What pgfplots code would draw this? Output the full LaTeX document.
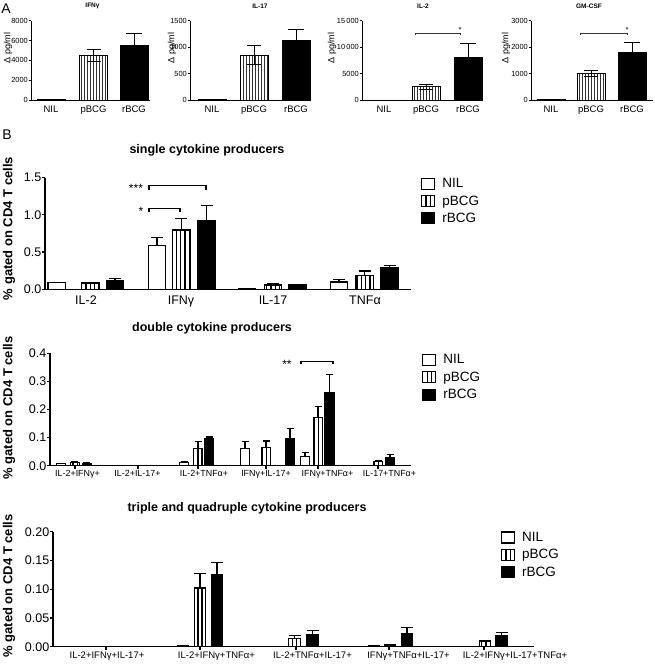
\documentclass[border=0pt]{standalone}
\usepackage{pgfplots}
\pgfplotsset{compat=1.18}
\usepackage{fontspec}
\setmainfont{Liberation Sans}
\usetikzlibrary{patterns.meta}
\newcommand{\fs}[1]{\fontsize{#1}{#1}\selectfont}

\pgfplotsset{
  base/.style={
    scale only axis, anchor=south west,
    axis x line*=bottom, axis y line*=left,
    ymin=0, clip=false, tick align=outside,
    scaled y ticks=false,
    /pgf/number format/assume math mode=true,
    /pgf/number format/1000 sep={},
    xtick style={draw=none},
  },
  Astyle/.style={base,
    axis line style={line width=0.9pt},
    ytick style={line width=0.8pt, black},
    major tick length=2.5pt,
    yticklabel style={font=\fs{7.4}, inner sep=0.5pt},
    xticklabel style={font=\fs{9.5}, inner sep=1pt, yshift=-2pt},
  },
  Bstyle/.style={base,
    axis line style={line width=1.3pt},
    ytick style={line width=1.2pt, black},
    major tick length=3pt,
    yticklabel style={font=\fs{12.5}, inner sep=0.5pt},
    legend style={draw=none, fill=none, anchor=north west, font=\fs{13.5},
      row sep=5pt, column sep=7pt, nodes={inner sep=0pt}, inner sep=0pt},
    legend cell align=left,
  },
  nil/.style={ybar, bar shift=0pt, fill=white, draw=black, forget plot},
  rbcg/.style={ybar, bar shift=0pt, fill=black, draw=black, forget plot},
  pbcgA/.style={ybar, bar shift=0pt, draw=black, forget plot,
     pattern={Lines[angle=90,distance=3pt,line width=0.9pt]}, pattern color=black!80},
  pbcgB/.style={ybar, bar shift=0pt, draw=black, forget plot,
     pattern={Lines[angle=90,distance=4.3pt,line width=1.4pt]}},
  eb/.style={error bars/.cd, y dir=plus, y explicit,
     error bar style={line width=1.1pt, black},
     error mark options={rotate=90, line width=1.1pt, black, mark size=#1}},
  ebA/.style={error bars/.cd, y dir=both, y explicit,
     error bar style={line width=0.9pt, black},
     error mark options={rotate=90, line width=0.9pt, black, mark size=#1}},
  legNIL/.style={legend image code/.code={\draw[line width=1.2pt, fill=white] (0pt,-5.5pt) rectangle (13pt,5.5pt);}},
  legP/.style={legend image code/.code={\draw[line width=1.2pt] (0pt,-5.5pt) rectangle (13pt,5.5pt); \draw[line width=1.4pt] (4.4pt,-5.5pt)--(4.4pt,5.5pt) (8.7pt,-5.5pt)--(8.7pt,5.5pt);}},
  legR/.style={legend image code/.code={\draw[line width=1.2pt, fill=black] (0pt,-5.5pt) rectangle (13pt,5.5pt);}},
}

\begin{document}
\begin{tikzpicture}
\useasboundingbox (0,0) rectangle (655pt,665pt);

% ---------------- Panel A ----------------
\begin{axis}[Astyle, at={(31pt,565pt)}, width=119pt, height=79.3pt,
  xmin=31, xmax=150, ymax=8000, ytick={0,2000,4000,6000,8000},
  xtick={51,93.5,134}, xticklabels={NIL,pBCG,rBCG}]
\addplot[nil, line width=0.8pt, bar width=28pt] coordinates {(51,20)};
\addplot[pbcgA, line width=0.8pt, bar width=28pt, ebA=7pt] coordinates {(93.5,4480) +- (0,630)};
\addplot[rbcg, line width=0.8pt, bar width=28pt, ebA=8pt] coordinates {(134,5550) +- (0,1130)};
\end{axis}

\begin{axis}[Astyle, at={(190pt,565pt)}, width=120pt, height=79.3pt,
  xmin=190, xmax=310, ymax=1500, ytick={0,500,1000,1500},
  xtick={212,254,296}, xticklabels={NIL,pBCG,rBCG}]
\addplot[nil, line width=0.8pt, bar width=28pt] coordinates {(212,3)};
\addplot[pbcgA, line width=0.8pt, bar width=28pt, ebA=7pt] coordinates {(254,851) +- (0,185)};
\addplot[rbcg, line width=0.8pt, bar width=28pt, ebA=8pt] coordinates {(296,1130) +- (0,200)};
\end{axis}

\begin{axis}[Astyle, at={(362pt,565pt)}, width=118pt, height=79.3pt,
  xmin=362, xmax=480, ymax=15000, ytick={0,5000,10000,15000},
  yticklabels={0,5000,10\hspace{0.18em}000,15\hspace{0.18em}000},
  xtick={384,426,468}, xticklabels={NIL,pBCG,rBCG}]
\addplot[nil, line width=0.8pt, bar width=28pt] coordinates {(384,0)};
\addplot[pbcgA, line width=0.8pt, bar width=28pt, ebA=7pt] coordinates {(426,2516) +- (0,470)};
\addplot[rbcg, line width=0.8pt, bar width=28pt, ebA=8pt] coordinates {(468,8077) +- (0,2650)};
\draw[line width=0.8pt, black!80] (axis cs:415,12300) -- (axis cs:415,12673) -- (axis cs:460,12673) -- (axis cs:460,12300);
\node[font=\fs{7.5}] at (axis cs:460,13300) {*};
\end{axis}

\begin{axis}[Astyle, at={(531pt,565pt)}, width=122pt, height=79.3pt,
  xmin=531, xmax=653, ymax=3000, ytick={0,1000,2000,3000},
  xtick={551,591,632}, xticklabels={NIL,pBCG,rBCG}]
\addplot[nil, line width=0.8pt, bar width=28pt] coordinates {(551,30)};
\addplot[pbcgA, line width=0.8pt, bar width=28pt, ebA=7pt] coordinates {(591,1009) +- (0,125)};
\addplot[rbcg, line width=0.8pt, bar width=28pt, ebA=8pt] coordinates {(632,1805) +- (0,380)};
\draw[line width=0.8pt, black!80] (axis cs:580,2460) -- (axis cs:580,2535) -- (axis cs:627,2535) -- (axis cs:627,2460);
\node[font=\fs{7.5}] at (axis cs:627,2660) {*};
\end{axis}

% ---------------- Panel B1 ----------------
\begin{axis}[Bstyle, at={(45pt,375.7pt)}, width=366pt, height=111.6pt,
  xmin=45, xmax=411, ymax=1.5, ytick={0,0.5,1,1.5},
  yticklabel style={/pgf/number format/.cd, fixed, fixed zerofill, precision=1},
  xtick={86,181,273,365}, xticklabels={IL-2,IFNγ,IL-17,TNFα},
  xticklabel style={font=\fs{12.5}},
  legend style={at={(1.027,1.002)}}]
\addplot[nil, line width=1.2pt, bar width=17.5pt, eb=6pt] coordinates {
  (56.7,0.089) +- (0,0.004) (157,0.586) +- (0,0.113) (339,0.098) +- (0,0.031)};
\addplot[nil, line width=1.2pt, bar width=17.5pt] coordinates {(247,0.004)};
\addplot[pbcgB, line width=1.2pt, bar width=17.5pt, eb=6pt] coordinates {
  (90.3,0.085) +- (0,0.005) (181.3,0.797) +- (0,0.157) (273,0.058) +- (0,0.018) (364.5,0.183) +- (0,0.063)};
\addplot[rbcg, line width=1.2pt, bar width=17.5pt, eb=6pt] coordinates {
  (115,0.121) +- (0,0.022) (206.5,0.918) +- (0,0.206) (297.7,0.058) +- (0,0.012) (389.5,0.29) +- (0,0.032)};
\draw[line width=1.2pt] (axis cs:149,1.338) -- (axis cs:149,1.392) -- (axis cs:206,1.392) -- (axis cs:206,1.338);
\draw[line width=1.2pt] (axis cs:149,1.035) -- (axis cs:149,1.089) -- (axis cs:180,1.089) -- (axis cs:180,1.035);
\node[font=\fs{12}, yshift=-3pt] at (axis cs:136,1.392) {***};
\node[font=\fs{12}, yshift=-3pt] at (axis cs:141,1.089) {*};
\addlegendimage{legNIL}\addlegendentry{NIL}
\addlegendimage{legP}\addlegendentry{pBCG}
\addlegendimage{legR}\addlegendentry{rBCG}
\end{axis}

% ---------------- Panel B2 ----------------
\begin{axis}[Bstyle, at={(50pt,199.3pt)}, width=361pt, height=112.4pt,
  xmin=50, xmax=411, ymax=0.4, ytick={0,0.1,0.2,0.3,0.4},
  yticklabel style={/pgf/number format/.cd, fixed, fixed zerofill, precision=1},
  xtick={75,138,198,266,318,378}, xticklabels={},
  xtick style={draw=black, line width=1.1pt},
  extra x ticks={77.5,137.5,204,266,327.5,389.5},
  extra x tick labels={IL-2+IFNγ+,IL-2+IL-17+,IL-2+TNFα+,IFNγ+IL-17+,IFNγ+TNFα+,IL-17+TNFα+},
  extra x tick style={major tick length=0pt, tick style={draw=none}, xticklabel style={font=\fs{8.9}, yshift=-1pt}},
  legend style={at={(1.0305,0.9956)}}]
\addplot[nil, line width=1.1pt, bar width=9pt, eb=3.5pt] coordinates {
  (61,0.008) +- (0,0.001) (184,0.01) +- (0,0.004) (245,0.062) +- (0,0.025) (305,0.034) +- (0,0.012)};
\addplot[nil, line width=1.1pt, bar width=9pt] coordinates {(130,0.001) (367,0.001)};
\addplot[pbcgB, line width=1.1pt, bar width=9pt, eb=3.5pt] coordinates {
  (75,0.011) +- (0,0.003) (198,0.062) +- (0,0.023) (266,0.064) +- (0,0.024) (318,0.171) +- (0,0.039) (378,0.014) +- (0,0.004)};
\addplot[pbcgB, line width=1.1pt, bar width=9pt] coordinates {(138,0.002)};
\addplot[rbcg, line width=1.1pt, bar width=9pt, eb=3.5pt] coordinates {
  (87,0.009) +- (0,0.002) (209,0.098) +- (0,0.004) (290,0.095) +- (0,0.038) (329.5,0.26) +- (0,0.064) (390,0.03) +- (0,0.009)};
\addplot[rbcg, line width=1.1pt, bar width=9pt] coordinates {(146,0.002)};
\draw[line width=1.2pt] (axis cs:301,0.361) -- (axis cs:301,0.372) -- (axis cs:333,0.372) -- (axis cs:333,0.361);
\node[font=\fs{12}, yshift=-3pt] at (axis cs:287,0.372) {**};
\addlegendimage{legNIL}\addlegendentry{NIL}
\addlegendimage{legP}\addlegendentry{pBCG}
\addlegendimage{legR}\addlegendentry{rBCG}
\end{axis}

% ---------------- Panel B3 ----------------
\begin{axis}[Bstyle, at={(53pt,18.3pt)}, width=481pt, height=115pt,
  xmin=53, xmax=534, ymax=0.2, ytick={0,0.05,0.1,0.15,0.2},
  yticklabel style={/pgf/number format/.cd, fixed, fixed zerofill, precision=2},
  xtick={106,200,296,389,484}, xticklabels={},
  xtick style={draw=black, line width=1.1pt},
  extra x ticks={107,216.5,312.5,408.5,515},
  extra x tick labels={IL-2+IFNγ+IL-17+,IL-2+IFNγ+TNFα+,IL-2+TNFα+IL-17+,IFNγ+TNFα+IL-17+,IL-2+IFNγ+IL-17+TNFα+},
  extra x tick style={major tick length=0pt, tick style={draw=none}, xticklabel style={font=\fs{9.5}, yshift=-2pt}},
  legend style={at={(0.931,1.004)}}]
\addplot[nil, line width=1.1pt, bar width=11.5pt] coordinates {
  (92,0.0005) (183,0.002) (278,0.001) (374,0.002) (468,0.0005)};
\addplot[pbcgB, line width=1.1pt, bar width=11.5pt, eb=6pt] coordinates {
  (200,0.102) +- (0,0.026) (294.5,0.015) +- (0,0.004) (390,0.003) +- (0,0.001) (485,0.009) +- (0,0.0025)};
\addplot[pbcgB, line width=1.1pt, bar width=11.5pt] coordinates {(106,0.001)};
\addplot[rbcg, line width=1.1pt, bar width=11.5pt, eb=6pt] coordinates {
  (217,0.126) +- (0,0.02) (312.5,0.0215) +- (0,0.0065) (407,0.023) +- (0,0.011) (501.5,0.02) +- (0,0.004)};
\addplot[rbcg, line width=1.1pt, bar width=11.5pt] coordinates {(120,0.0005)};
\addlegendimage{legNIL}\addlegendentry{NIL}
\addlegendimage{legP}\addlegendentry{pBCG}
\addlegendimage{legR}\addlegendentry{rBCG}
\end{axis}

% ---------------- Text ----------------
\node[font=\fs{14}] at (6pt,656.5pt) {A};
\node[font=\fs{14}] at (7pt,530pt) {B};
\node[font=\bfseries\fs{6.5}] at (92.5pt,659pt) {IFNγ};
\node[font=\bfseries\fs{6.5}] at (260pt,659pt) {IL-17};
\node[font=\bfseries\fs{6.5}] at (423pt,659pt) {IL-2};
\node[font=\bfseries\fs{6.5}] at (589pt,659pt) {GM-CSF};
\node[rotate=90, font=\fs{9}] at (8pt,617pt) {Δ pg/ml};
\node[rotate=90, font=\fs{9}] at (172pt,617pt) {Δ pg/ml};
\node[rotate=90, font=\fs{9}] at (332pt,617pt) {Δ pg/ml};
\node[rotate=90, font=\fs{9}] at (506pt,617pt) {Δ pg/ml};
\node[font=\bfseries\fs{12.5}] at (207pt,514.3pt) {single cytokine producers};
\node[font=\bfseries\fs{12.5}] at (212pt,337pt) {double cytokine producers};
\node[font=\bfseries\fs{12.5}] at (247pt,157pt) {triple and quadruple cytokine producers};
\node[rotate=90, font=\bfseries\fs{13}] at (9pt,436.5pt) {\% gated on CD4 T cells};
\node[rotate=90, font=\bfseries\fs{13}] at (9pt,257pt) {\% gated on CD4 T cells};
\node[rotate=90, font=\bfseries\fs{13}] at (9pt,79pt) {\% gated on CD4 T cells};
\end{tikzpicture}
\end{document}
